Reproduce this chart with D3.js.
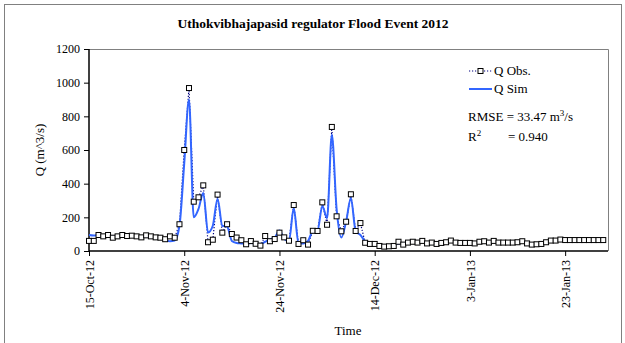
<!DOCTYPE html>
<html><head><meta charset="utf-8">
<script src="https://cdn.jsdelivr.net/npm/d3@7"></script>
<style>body{margin:0;background:#fff}svg{display:block}text{font-family:"Liberation Serif","Times New Roman",serif;fill:#000}</style>
</head><body><svg id="c" width="625" height="343"></svg>
<script>
const startDate = "2012-10-15";
const endDate = "2013-02-01";
const obsValues = [60,60,95,87,95,79,87,95,89,91,87,81,93,87,81,79,70,87,79,159,600,968,293,319,390,52,67,335,109,159,101,80,64,40,59,43,32,89,58,71,109,81,61,273,42,64,38,120,119,289,156,737,206,117,174,337,119,166,49,42,42,30,26,
28,30,55,38,50,55,50,60,45,50,42,48,52,62,50,48,48,48,45,55,58,50,60,50,50,50,50,52,58,45,38,40,42,52,62,62,68,65,65,65,65,65,65,65,65,65];
const simValues = [95,92,95,93,90,88,90,92,90,88,86,85,84,82,80,76,68,58,62,150,520,900,200,250,345,110,150,310,150,145,60,48,45,42,48,45,42,55,70,80,122,72,60,255,45,45,60,118,122,268,195,690,250,80,175,315,118,95,58,46,40,35,32,
32,35,45,45,50,55,55,55,52,50,50,52,55,58,55,50,48,48,48,52,55,55,55,52,50,50,50,52,55,48,42,42,45,52,58,60,62,62,62,62,62,62,62,63,63,64];
const yTicks = [0,200,400,600,800,1000,1200];
const xTickLabels = ["15-Oct-12","4-Nov-12","24-Nov-12","14-Dec-12","3-Jan-13","23-Jan-13"];
const titleText = "Uthokvibhajapasid regulator Flood Event 2012";

const parse = d3.timeParse("%Y-%m-%d");
const t0 = parse(startDate);
const dates = obsValues.map((_, i) => d3.timeDay.offset(t0, i));
const obs = obsValues.map((v, i) => ({d: dates[i], v}));
const sim = simValues.map((v, i) => ({d: dates[i], v}));
const tickParse = d3.timeParse("%d-%b-%y");
const xTicks = xTickLabels.map(s => tickParse(s));

const svg = d3.select("#c");
const L = 89, R = 608, T = 49, B = 251;
const x = d3.scaleTime().domain([t0, parse(endDate)]).range([L, R]);
const y = d3.scaleLinear().domain([0, 1200]).range([B, T]);

// outer frame
svg.append("rect").attr("x",4.5).attr("y",4.5).attr("width",617).attr("height",345)
  .attr("fill","none").attr("stroke","#808080").attr("stroke-width",1);

// plot area border (top/right)
svg.append("path").attr("d",`M${L},${T+0.5}H${R+0.5}V${B}`).attr("fill","none").attr("stroke","#808080").attr("stroke-width",1);

svg.append("text").attr("x",313).attr("y",28).attr("text-anchor","middle")
  .style("font-size","13.5px").style("font-weight","bold").text(titleText);

// axes
const ya = d3.axisLeft(y).tickValues(yTicks).tickSize(5).tickPadding(4).tickFormat(d3.format("d"));
const gy = svg.append("g").attr("transform",`translate(${L},0)`).call(ya);
gy.selectAll("text").style("font-size","12px").attr("font-family","Liberation Serif");
gy.select(".domain").attr("stroke","#000").attr("stroke-width",1.5).attr("d",`M0,${T}V${B}`);

const xa = d3.axisBottom(x).tickValues(xTicks).tickSize(5).tickFormat(d3.timeFormat("%-d-%b-%y"));
const gx = svg.append("g").attr("transform",`translate(0,${B})`).call(xa);
gx.select(".domain").attr("stroke","#000").attr("stroke-width",1.5).attr("d",`M${L},0H${R}`);
gx.selectAll("text").style("font-size","12px").attr("text-anchor","end")
  .attr("transform","rotate(-90)").attr("x",-9).attr("y",0).attr("dy","0.35em");

svg.append("text").attr("x",348).attr("y",335).attr("text-anchor","middle").style("font-size","13px").text("Time");
svg.append("text").attr("transform","translate(44,150) rotate(-90)").attr("text-anchor","middle")
  .style("font-size","13px").text("Q (m^3/s)");

// lines
const line = d3.line().x(d => x(d.d)).y(d => y(d.v));
svg.append("path").datum(obs).attr("d", line).attr("fill","none")
  .attr("stroke","#000080").attr("stroke-width",1.2).attr("stroke-dasharray","1.2,1.8");
svg.append("path").datum(sim).attr("d", line.curve(d3.curveMonotoneX)).attr("fill","none")
  .attr("stroke","#3366ff").attr("stroke-width",2);
svg.selectAll("rect.m").data(obs).join("rect").attr("class","m")
  .attr("x", d => x(d.d) - 2.5).attr("y", d => y(d.v) - 2.5).attr("width",5).attr("height",5)
  .attr("fill","#fff").attr("stroke","#000").attr("stroke-width",1);

// legend
const lg = svg.append("g");
lg.append("line").attr("x1",469).attr("x2",492).attr("y1",71).attr("y2",71)
  .attr("stroke","#000080").attr("stroke-width",1.2).attr("stroke-dasharray","1.2,1.8");
lg.append("rect").attr("x",478).attr("y",68.5).attr("width",5).attr("height",5).attr("fill","#fff").attr("stroke","#000");
lg.append("text").attr("x",494).attr("y",75).style("font-size","13px").text("Q Obs.");
lg.append("line").attr("x1",469).attr("x2",492).attr("y1",89).attr("y2",89).attr("stroke","#3366ff").attr("stroke-width",2);
lg.append("text").attr("x",494).attr("y",93).style("font-size","13px").text("Q Sim");

const t1 = svg.append("text").attr("x",468).attr("y",121).style("font-size","13px");
t1.append("tspan").text("RMSE = 33.47 m");
t1.append("tspan").attr("dy",-5).style("font-size","9px").text("3");
t1.append("tspan").attr("dy",5).text("/s");
const t2 = svg.append("text").attr("x",468).attr("y",141).style("font-size","13px");
t2.append("tspan").text("R");
t2.append("tspan").attr("dy",-5).style("font-size","9px").text("2");
t2.append("tspan").attr("dy",5).attr("x",508).text("= 0.940");
</script></body></html>
